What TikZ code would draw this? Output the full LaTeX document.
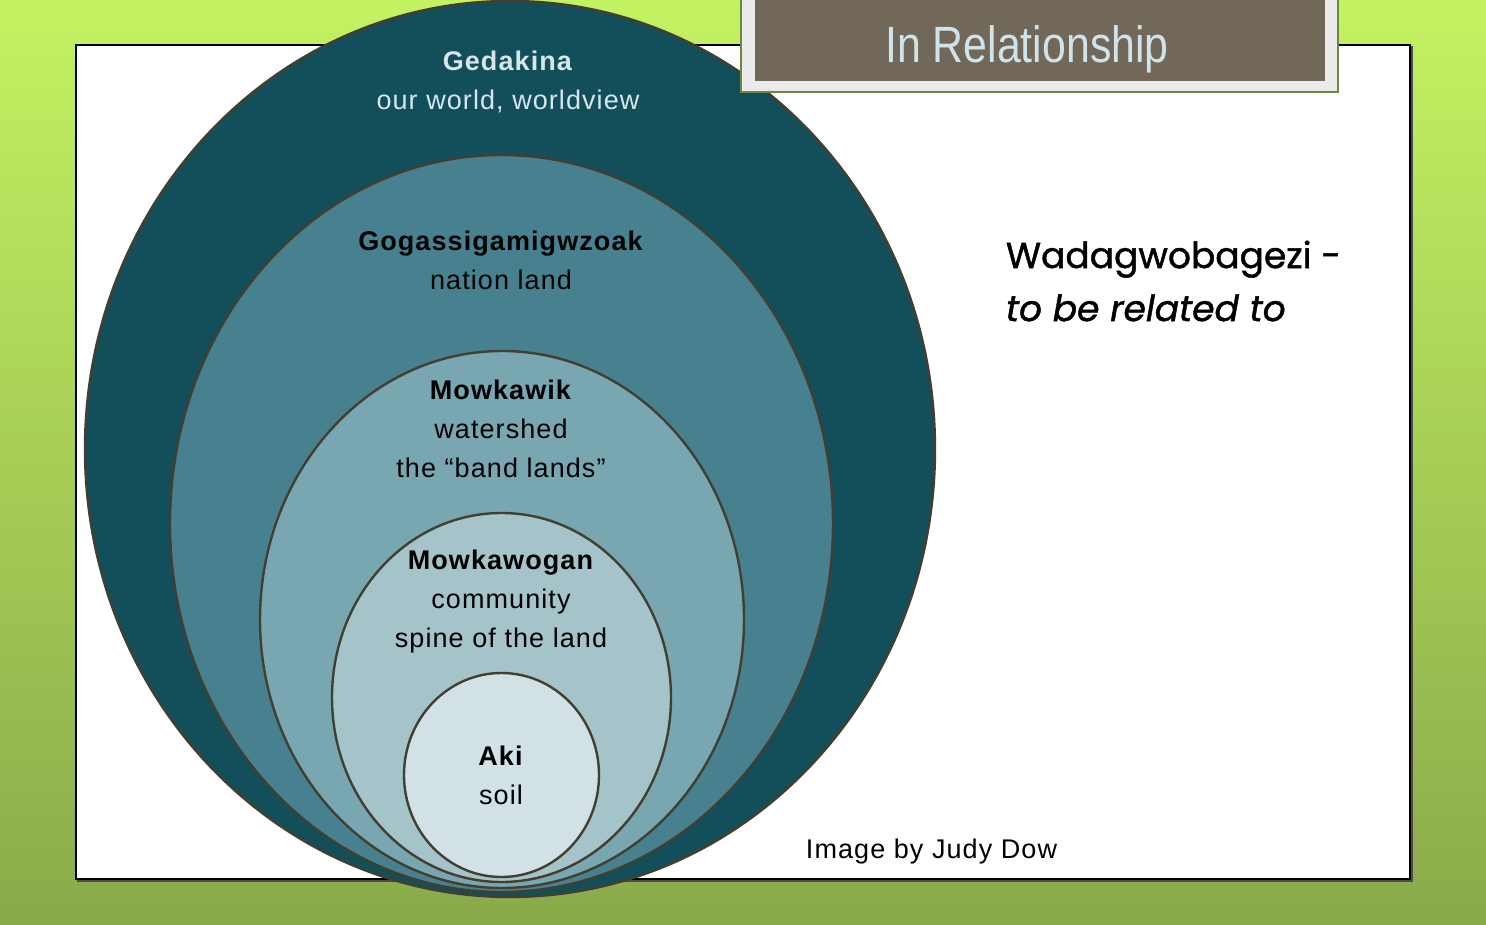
\documentclass[tikz,border=0pt]{standalone}
\usepackage{fontspec}
\setmainfont{Liberation Sans}[LetterSpace=4]
\newfontfamily\narrowfont[FakeStretch=0.84]{Liberation Sans}
\newfontfamily\roundfont[FakeBold=1.2]{Poppins}
\usepackage{xcolor}
\definecolor{bgtop}{HTML}{C3F262}
\definecolor{bgbottom}{HTML}{8AAA4A}
\definecolor{ringA}{HTML}{134E5B}
\definecolor{ringB}{HTML}{47818F}
\definecolor{ringC}{HTML}{78A6B1}
\definecolor{ringD}{HTML}{A4C4C9}
\definecolor{ringE}{HTML}{D2E1E5}
\definecolor{ringline}{HTML}{433F30}
\definecolor{titlebrown}{HTML}{72685A}
\definecolor{titletext}{HTML}{CFE3EA}
\definecolor{lighttext}{HTML}{D6E6EA}

\begin{document}
\begin{tikzpicture}[x=1pt,y=1pt,yscale=-1,xscale=1,
  ring/.style={draw=ringline,line width=2.4pt},
  ringlabel/.style={inner sep=0.75pt,align=center,font=\fontsize{27}{39}\selectfont}]
\useasboundingbox (0,0) rectangle (1486,925);

% background
\shade[top color=bgtop,bottom color=bgbottom] (0,0) rectangle (1486,925);
\draw[black!70,line width=2pt] (78,47) rectangle (1412,881);
\draw[fill=white,draw=black,line width=1.6pt] (76,45) rectangle (1410,879);

% rings
\draw[ring,fill=ringA] (510,449) ellipse (425 and 448);
\draw[ring,fill=ringB] (501.5,523.5) ellipse (331.5 and 368.5);
\draw[ring,fill=ringC] (502,619.5) ellipse (242 and 268.5);
\draw[ring,fill=ringD] (501.5,697.5) ellipse (169.5 and 184.5);
\draw[ring,fill=ringE] (501.5,775) ellipse (97.5 and 102);

% Text Node
\draw (508,82) node (gedakina) [ringlabel,text=lighttext] {\textbf{Gedakina}\\our world, worldview};
% Text Node
\draw (501,260) node (nation) [ringlabel] {\textbf{Gogassigamigwzoak}\\nation land};
% Text Node
\draw (501,429) node (watershed) [ringlabel] {\textbf{Mowkawik}\\watershed\\the “band lands”};
% Text Node
\draw (501,602) node (community) [ringlabel] {\textbf{Mowkawogan}\\community\\spine of the land};
% Text Node
\draw (501,775) node (soil) [ringlabel] {\textbf{Aki}\\soil};

% title
\draw[fill=black!8,draw=bgbottom!80!black,line width=1.2pt] (741,-2) rectangle (1338,92);
\fill[titlebrown] (755,-2) rectangle (1325,81);
\draw (1027,49) node (title) [inner sep=0.75pt,text=titletext,font=\narrowfont\fontsize{51}{60}\selectfont] {In Relationship};

% Text Node
\draw (1005,281) node (related) [anchor=west,inner sep=0.75pt,align=left,font=\roundfont\fontsize{36}{53}\selectfont] {Wadagwobagezi -\\\textit{to be related to}};
% Text Node
\draw (805,852) node (credit) [anchor=west,inner sep=0.75pt,font=\fontsize{27}{32}\selectfont] {Image by Judy Dow};

\end{tikzpicture}
\end{document}
